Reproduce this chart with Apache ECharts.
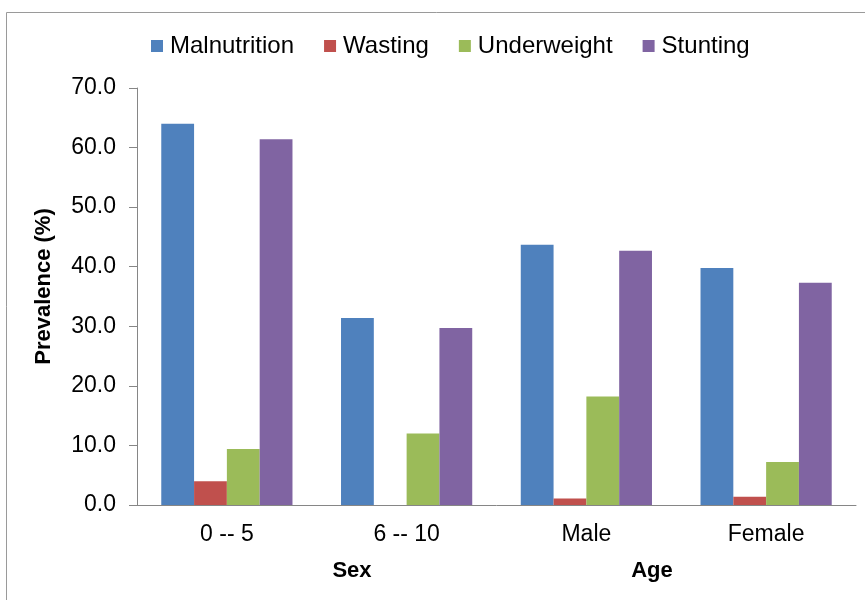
<!DOCTYPE html>
<html>
<head>
<meta charset="utf-8">
<script src="https://cdn.jsdelivr.net/npm/echarts@6/dist/echarts.min.js"></script>
<style>
html,body{margin:0;padding:0;background:#fff;}
#c{width:865px;height:600px;}
</style>
</head>
<body>
<div id="c"></div>
<script>
const categories = ["0 -- 5", "6 -- 10", "Male", "Female"];
const malnutrition = [64.0, 31.4, 43.7, 39.8];
const wasting = [4.0, 0.0, 1.1, 1.4];
const underweight = [9.4, 12.0, 18.2, 7.2];
const stunting = [61.4, 29.7, 42.7, 37.3];
const yTicks = { min: 0, max: 70, interval: 10 };
const groupLabels = ["Sex", "Age"];

const chart = echarts.init(document.getElementById('c'));
const FONT = 'Liberation Sans, Arial, sans-serif';
const mk = (name, data, color) => ({
  name, type: 'bar', data, barGap: '0%', barCategoryGap: '27%',
  itemStyle: { color }, emphasis: { disabled: true }
});
chart.setOption({
  animation: false,
  textStyle: { fontFamily: FONT },
  graphic: [
    { type: 'rect', shape: { x: 6.5, y: 12.5, width: 900, height: 700 },
      style: { fill: 'none', stroke: '#9a9a9a', lineWidth: 1 }, z: -1 },
    { type: 'text', x: 352, y: 571, style: { text: groupLabels[0], font: 'bold 22px ' + FONT, fill: '#000', textAlign: 'center', textVerticalAlign: 'middle' } },
    { type: 'text', x: 652, y: 571, style: { text: groupLabels[1], font: 'bold 22px ' + FONT, fill: '#000', textAlign: 'center', textVerticalAlign: 'middle' } }
  ],
  legend: {
    top: 29, left: 146, itemWidth: 12, itemHeight: 12, itemGap: 30,
    icon: 'rect',
    textStyle: { fontSize: 24, color: '#000', fontFamily: FONT, padding: [0, 0, 0, 2] },
    data: ['Malnutrition', 'Wasting', 'Underweight', 'Stunting']
  },
  grid: { left: 137, right: 9, top: 88, bottom: 95 },
  xAxis: {
    type: 'category', data: categories,
    axisLine: { lineStyle: { color: '#868686' } },
    axisTick: { length: 7, lineStyle: { color: '#868686' } },
    axisLabel: { fontSize: 23, color: '#000', margin: 18 }
  },
  yAxis: {
    type: 'value', min: yTicks.min, max: yTicks.max, interval: yTicks.interval,
    name: 'Prevalence (%)', nameLocation: 'middle', nameGap: 82,
    nameTextStyle: { fontSize: 22, fontWeight: 'bold', color: '#000', padding: [0, 0, 0, 20] },
    axisLine: { show: true, lineStyle: { color: '#868686' } },
    axisTick: { show: true, inside: false, length: 8, lineStyle: { color: '#868686' } },
    splitLine: { show: false },
    axisLabel: { fontSize: 23, color: '#000', margin: 21, formatter: v => v.toFixed(1) }
  },
  series: [
    mk('Malnutrition', malnutrition, '#4F81BD'),
    mk('Wasting', wasting, '#C0504D'),
    mk('Underweight', underweight, '#9BBB59'),
    mk('Stunting', stunting, '#8064A2')
  ]
});
</script>
</body>
</html>
